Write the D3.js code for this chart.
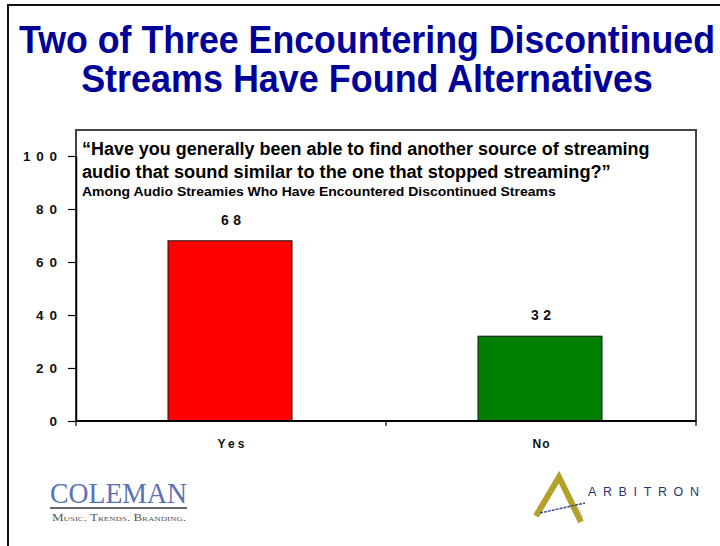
<!DOCTYPE html>
<html>
<head>
<meta charset="utf-8">
<script src="https://cdn.jsdelivr.net/npm/d3@7/dist/d3.min.js"></script>
<style>
  html, body { margin: 0; padding: 0; background: #fff; }
  svg { display: block; font-family: "Liberation Sans", Arial, sans-serif; }
</style>
</head>
<body>
<script>
// Survey answers and their shares (percent)
const categories = ["Yes", "No"];
const values = [68, 32];
const barColors = ["#ff0000", "#008000"];
const yTicks = [0, 20, 40, 60, 80, 100];

const titleLines = ["Two of Three Encountering Discontinued", "Streams Have Found Alternatives"];
const questionLines = [
  "\u201CHave you generally been able to find another source of streaming",
  "audio that sound similar to the one that stopped streaming?\u201D"
];
const baseNote = "Among Audio Streamies Who Have Encountered Discontinued Streams";

const W = 720, H = 546;
const plot = { left: 76, right: 696, top: 130, bottom: 421 };

const svg = d3.select("body").append("svg").attr("width", W).attr("height", H);

// squeeze a text horizontally so it spans the given width
function condense(sel, x, y, width) {
  sel.each(function (d, i) {
    const node = this;
    const natural = node.getComputedTextLength();
    const w = typeof width === "function" ? width(d, i) : width;
    const px = typeof x === "function" ? x(d, i) : x;
    const py = typeof y === "function" ? y(d, i) : y;
    d3.select(node).attr("x", 0).attr("y", 0)
      .attr("transform", `translate(${px},${py}) scale(${w / natural},1)`);
  });
}

// outer slide frame
svg.append("path")
  .attr("d", `M8,${H + 2} L8,5 L${W + 2},5`)
  .attr("fill", "none").attr("stroke", "#111").attr("stroke-width", 2);

// headline
const titleWidths = [696, 572];
svg.append("g").selectAll("text").data(titleLines).join("text")
  .attr("text-anchor", "middle")
  .attr("font-size", 38)
  .attr("font-weight", "bold")
  .attr("fill", "#000099")
  .text(d => d)
  .call(condense, 367, (d, i) => 53 + i * 39, (d, i) => titleWidths[i]);

// scales
const x = d3.scaleBand().domain(categories).range([plot.left, plot.right]).padding(0);
const y = d3.scaleLinear().domain([0, 100]).range([plot.bottom, 156]);

// plot frame
svg.append("rect")
  .attr("x", plot.left).attr("y", plot.top)
  .attr("width", plot.right - plot.left).attr("height", plot.bottom - plot.top)
  .attr("fill", "none").attr("stroke", "#444").attr("stroke-width", 2);

// question text inside the plot
const qWidths = [568, 529];
svg.append("g").selectAll("text").data(questionLines).join("text")
  .attr("font-size", 18.5)
  .attr("font-weight", "bold")
  .attr("fill", "#000")
  .text(d => d)
  .call(condense, 82, (d, i) => 155 + i * 23, (d, i) => qWidths[i]);

svg.append("text")
  .attr("font-size", 12.5)
  .attr("font-weight", "bold")
  .attr("fill", "#000")
  .text(baseNote)
  .call(condense, 82, 196, 474);

// bars
const barFrac = 0.4;
svg.append("g").selectAll("rect").data(values).join("rect")
  .attr("x", (d, i) => x(categories[i]) + x.bandwidth() * (1 - barFrac) / 2 - 1)
  .attr("y", d => y(d))
  .attr("width", x.bandwidth() * barFrac)
  .attr("height", d => y(0) - y(d))
  .attr("fill", (d, i) => barColors[i])
  .attr("stroke", "#111").attr("stroke-width", 1);

// widely spaced digits/letters, as in the axis styling
const spacedWidth = (s, adv, glyph) => s.length * adv - (adv - glyph);

// value labels
svg.append("g").selectAll("text").data(values).join("text")
  .attr("x", (d, i) => x(categories[i]) + x.bandwidth() / 2)
  .attr("y", d => y(d) - 16)
  .attr("text-anchor", "middle")
  .attr("font-size", 14)
  .attr("font-weight", "bold")
  .attr("fill", "#111")
  .attr("textLength", d => spacedWidth(String(d), 12, 8))
  .attr("lengthAdjust", "spacing")
  .text(d => d);

// y axis
const yAxis = svg.append("g")
  .attr("transform", `translate(${plot.left},0)`)
  .call(d3.axisLeft(y).tickValues(yTicks).tickSize(8).tickPadding(11).tickSizeOuter(0));
yAxis.select(".domain").attr("stroke", "#000").attr("stroke-width", 1.5);
yAxis.selectAll(".tick line").attr("stroke", "#000").attr("stroke-width", 1.2);
yAxis.selectAll(".tick text")
  .attr("font-size", 13.5).attr("font-weight", "bold").attr("fill", "#111")
  .attr("font-family", "Liberation Sans, Arial, sans-serif")
  .attr("textLength", d => spacedWidth(String(d), 13, 8))
  .attr("lengthAdjust", "spacing");

// x axis (ticks at band boundaries)
const xAxisG = svg.append("g");
xAxisG.append("line")
  .attr("x1", plot.left).attr("x2", plot.right)
  .attr("y1", y(0)).attr("y2", y(0))
  .attr("stroke", "#000").attr("stroke-width", 2);
const bounds = categories.map(c => x(c)).concat([x(categories[categories.length - 1]) + x.bandwidth()]);
xAxisG.selectAll("line.tk").data(bounds).join("line").attr("class", "tk")
  .attr("x1", d => d).attr("x2", d => d)
  .attr("y1", y(0)).attr("y2", y(0) + 5)
  .attr("stroke", "#000").attr("stroke-width", 1.2);
xAxisG.selectAll("text").data(categories).join("text")
  .attr("x", d => x(d) + x.bandwidth() / 2)
  .attr("y", 448)
  .attr("text-anchor", "middle")
  .attr("font-size", 12)
  .attr("font-weight", "bold")
  .attr("fill", "#111")
  .attr("textLength", d => spacedWidth(d, 10, 7))
  .attr("lengthAdjust", "spacing")
  .text(d => d);

// Coleman logo
const cole = svg.append("g");
cole.append("text")
  .attr("font-family", "Liberation Serif, 'DejaVu Serif', serif")
  .attr("font-size", 30)
  .attr("fill", "#5b72b4")
  .text("COLEMAN")
  .call(condense, 50, 503, 137);
cole.append("line")
  .attr("x1", 50).attr("x2", 187).attr("y1", 508).attr("y2", 508)
  .attr("stroke", "#333").attr("stroke-width", 1.5);
cole.append("text")
  .attr("font-family", "Liberation Serif, 'DejaVu Serif', serif")
  .attr("font-size", 10.5)
  .attr("fill", "#555")
  .style("font-variant", "small-caps")
  .text("Music. Trends. Branding.")
  .call(condense, 52, 521, 133);

// Arbitron logo
const arb = svg.append("g");
arb.append("path")
  .attr("d", "M536,516 L559,477 L581,522")
  .attr("fill", "none").attr("stroke", "#b3a128").attr("stroke-width", 6)
  .attr("stroke-linejoin", "miter");
arb.append("path")
  .attr("d", "M540,513 L585,503")
  .attr("fill", "none").attr("stroke", "#3a4a90").attr("stroke-width", 1.5)
  .attr("stroke-dasharray", "3,1");
arb.append("path")
  .attr("d", "M578,507 L583,518")
  .attr("fill", "none").attr("stroke", "#8a93c0").attr("stroke-width", 1)
  .attr("stroke-dasharray", "1,1");
arb.append("text")
  .attr("x", 588).attr("y", 496)
  .attr("font-size", 12.5)
  .attr("fill", "#2c3570")
  .attr("textLength", 111).attr("lengthAdjust", "spacing")
  .text("ARBITRON");
</script>
</body>
</html>
